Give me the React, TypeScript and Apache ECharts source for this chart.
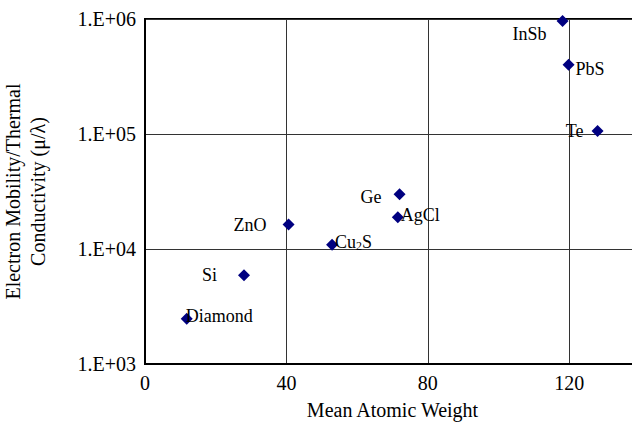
import React, { useEffect, useRef } from "react";
import * as echarts from "echarts";

const materials = ["InSb", "PbS", "Te", "Ge", "AgCl", "Cu2S", "ZnO", "Si", "Diamond"];
const atomicWeight = [118.1, 119.8, 128.0, 72.0, 71.5, 52.9, 40.6, 28.0, 11.8];
const mobilityRatio = [960000, 400000, 106000, 30000, 18900, 10900, 16300, 5900, 2470];
const labelPositions = ["left", "right", "left", "left", "right", "right", "left", "left", "right"];
const labelOffsets = [[-5, 13], [-4, 4], [-3, 0], [-7, 3], [-8, -2], [-8, -3], [-11, 0], [-16, 0], [-12, -3]];
const yTickLabels: Record<number, string> = { 1000: "1.E+03", 10000: "1.E+04", 100000: "1.E+05", 1000000: "1.E+06" };

const FONT = "'Liberation Serif', 'Times New Roman', serif";

export default function App() {
  const ref = useRef<HTMLDivElement>(null);
  useEffect(() => {
    if (!ref.current) return;
    const chart = echarts.init(ref.current, undefined, { renderer: "svg" });
    const data = materials.map((m, i) => ({
      value: [atomicWeight[i], mobilityRatio[i]],
      name: m,
      label: {
        show: true,
        position: labelPositions[i],
        offset: labelOffsets[i],
        formatter: m === "Cu2S" ? "{a|Cu}{s|2}{a|S}" : m,
        rich: {
          a: { fontSize: 18, fontFamily: FONT, color: "#000" },
          s: { fontSize: 12, fontFamily: FONT, color: "#000", padding: [8, 0, 0, 0] },
        },
      },
    }));
    chart.setOption({
      animation: false,
      backgroundColor: "#fff",
      textStyle: { fontFamily: FONT },
      grid: {
        left: 145,
        right: 5,
        top: 19,
        bottom: 59,
        containLabel: false,
        outerBoundsMode: "none",
        show: true,
        borderColor: "#000",
        borderWidth: 2,
      },
      xAxis: {
        type: "value",
        min: 0,
        max: 140,
        interval: 40,
        name: "Mean Atomic Weight",
        nameLocation: "middle",
        nameGap: 36,
        nameTextStyle: { fontFamily: FONT, fontSize: 20, color: "#000" },
        axisLine: { show: true, lineStyle: { color: "#000", width: 2 } },
        axisTick: { show: false },
        axisLabel: { fontFamily: FONT, fontSize: 20, color: "#000", margin: 9, showMaxLabel: false },
        splitLine: { show: true, lineStyle: { color: "#333", width: 1 } },
      },
      yAxis: {
        type: "log",
        logBase: 10,
        min: 1000,
        max: 1000000,
        name: "Electron Mobility/Thermal\nConductivity (μ/λ)",
        nameLocation: "middle",
        nameGap: 95,
        nameTextStyle: { fontFamily: FONT, fontSize: 20, color: "#000", lineHeight: 25 },
        axisLine: { show: true, lineStyle: { color: "#000", width: 2 } },
        axisTick: { show: false },
        axisLabel: {
          fontFamily: FONT,
          fontSize: 20,
          color: "#000",
          margin: 9,
          formatter: (v: number) => yTickLabels[Math.round(v)] ?? "",
        },
        splitLine: { show: true, lineStyle: { color: "#333", width: 1 } },
      },
      series: [
        {
          type: "scatter",
          symbol: "diamond",
          symbolSize: 12,
          itemStyle: { color: "#000080", opacity: 1 },
          label: { fontFamily: FONT, fontSize: 18, color: "#000", distance: 5 },
          data,
        },
      ],
    });
    return () => chart.dispose();
  }, []);
  return (
    <div style={{ position: "absolute", left: 0, top: 0, width: 632, height: 423, overflow: "hidden" }}>
      <div ref={ref} style={{ width: 645, height: 423 }} />
    </div>
  );
}
